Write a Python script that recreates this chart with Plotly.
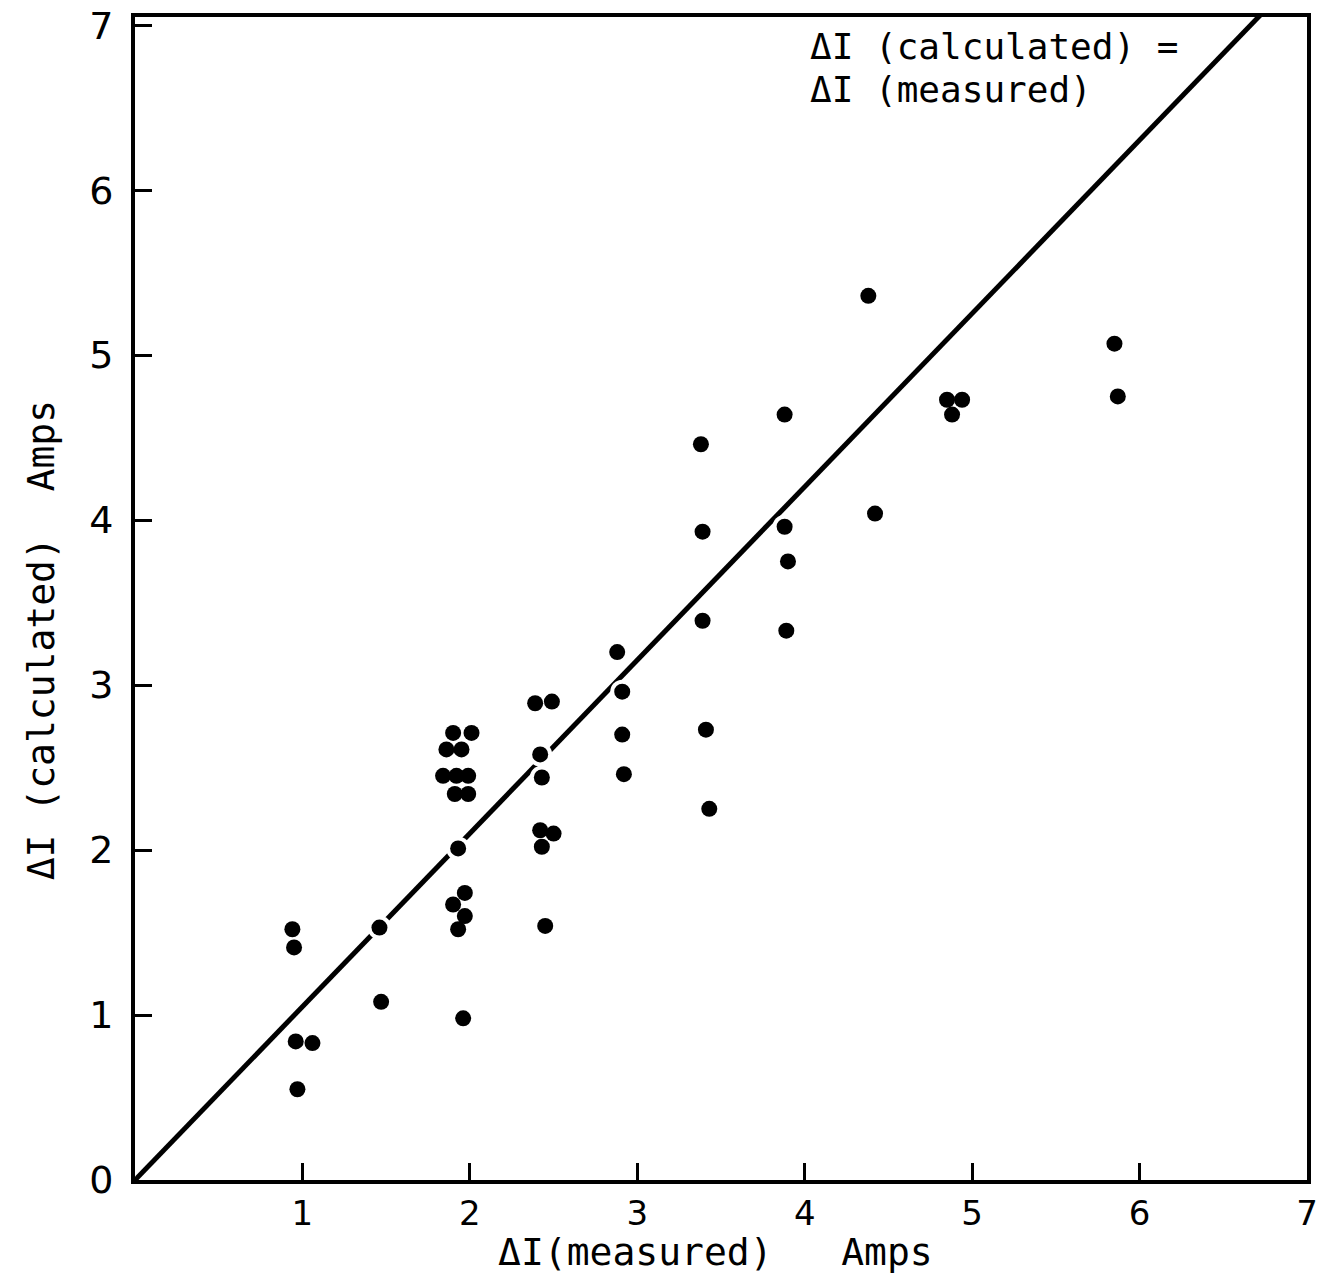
import plotly.graph_objects as go

# Data (ΔI measured vs ΔI calculated, Amps)
measured = [0.94, 0.95, 1.46, 1.47, 0.96, 1.06, 0.97,
            2.39, 2.49, 1.90, 2.01, 1.86, 1.95, 2.42, 1.84, 1.92, 1.99, 2.43,
            1.91, 1.99, 1.93, 2.42, 2.50, 2.43, 1.97, 1.90, 1.97, 1.93, 2.45, 1.96,
            3.88, 3.38, 3.39, 3.88, 3.90, 3.39, 3.89, 2.88, 2.91, 3.41, 2.91, 2.92, 3.43,
            4.38, 5.85, 5.87, 4.85, 4.94, 4.88, 4.42]
calculated = [1.52, 1.41, 1.53, 1.08, 0.84, 0.83, 0.55,
              2.89, 2.90, 2.71, 2.71, 2.61, 2.61, 2.58, 2.45, 2.45, 2.45, 2.44,
              2.34, 2.34, 2.01, 2.12, 2.10, 2.02, 1.74, 1.67, 1.60, 1.52, 1.54, 0.98,
              4.64, 4.46, 3.93, 3.96, 3.75, 3.39, 3.33, 3.20, 2.96, 2.73, 2.70, 2.46, 2.25,
              5.36, 5.07, 4.75, 4.73, 4.73, 4.64, 4.04]

# Reference line ΔI(calculated) = ΔI(measured), as it appears on the scanned figure
ref_line_x = [0.0, 6.72]
ref_line_y = [0.0, 7.06]

x_ticks = [1, 2, 3, 4, 5, 6, 7]
y_ticks = [0, 1, 2, 3, 4, 5, 6, 7]

FONT = "DejaVu Sans"
MONO = "DejaVu Sans Mono"

fig = go.Figure()
fig.add_trace(go.Scatter(x=ref_line_x, y=ref_line_y, mode="lines",
                         line=dict(color="black", width=5), hoverinfo="skip",
                         showlegend=False))
# white halos to break the line around dots (as in the original drawing)
fig.add_trace(go.Scatter(x=measured, y=calculated, mode="markers",
                         marker=dict(color="white", size=24), hoverinfo="skip",
                         showlegend=False))
fig.add_trace(go.Scatter(x=measured, y=calculated, mode="markers",
                         marker=dict(color="black", size=16, line=dict(width=0)),
                         showlegend=False))

axis_common = dict(showgrid=False, zeroline=False, showline=True, linecolor="black",
                   linewidth=4, mirror=True, ticks="inside", ticklen=17, tickwidth=3,
                   tickcolor="black", automargin=False)

fig.update_xaxes(range=[0, 7.0], tickvals=x_ticks, ticktext=[str(v) for v in x_ticks],
                 ticklabelstandoff=0, tickfont=dict(family=FONT, size=34, color="black"),
                 **axis_common)
fig.update_yaxes(range=[0, 7.05], tickvals=y_ticks, ticktext=[str(v) for v in y_ticks],
                 ticklabelstandoff=10, tickfont=dict(family=FONT, size=38, color="black"),
                 **axis_common)

annots = [
    dict(text="ΔI(measured)   Amps", x=0.495, y=0, xref="paper", yref="paper",
         yshift=-72, xanchor="center", yanchor="middle", showarrow=False,
         font=dict(family=MONO, size=38, color="black")),
    dict(text="ΔI (calculated)  Amps", x=0, y=0.464, xref="paper", yref="paper",
         xshift=-94, xanchor="center", yanchor="middle", textangle=-90, showarrow=False,
         font=dict(family=MONO, size=38, color="black")),
    dict(text="ΔI (calculated) =", x=0.574, y=0.975, xref="paper", yref="paper",
         xanchor="left", yanchor="middle", showarrow=False,
         font=dict(family=MONO, size=36, color="black")),
    dict(text="ΔI (measured)", x=0.574, y=0.938, xref="paper", yref="paper",
         xanchor="left", yanchor="middle", showarrow=False,
         font=dict(family=MONO, size=36, color="black")),
]

fig.update_layout(width=1323, height=1279, plot_bgcolor="white", paper_bgcolor="white",
                  margin=dict(l=135, r=16, t=17, b=99, autoexpand=False),
                  annotations=annots, showlegend=False)

fig.write_html("out.html", config={"displayModeBar": False},
               post_script="document.body.style.margin='0';")
